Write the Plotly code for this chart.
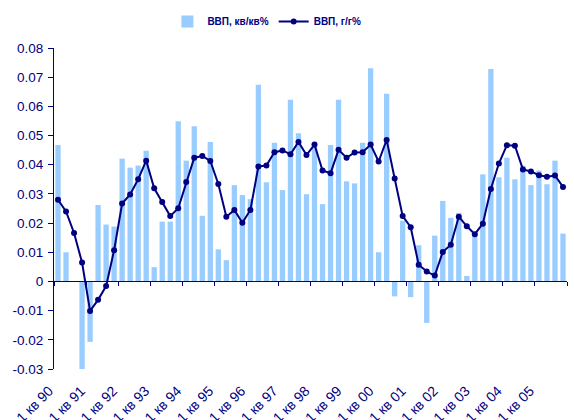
import plotly.graph_objects as go

# ---- data ----
years = ["90", "91", "92", "93", "94", "95", "96", "97", "98", "99",
         "00", "01", "02", "03", "04", "05"]
quarters = [f"{q} кв {y}" for y in years for q in (1, 2, 3, 4)]

gdp_qoq = [0.0468, 0.0100, 0.0000, -0.0310, -0.0207, 0.0262, 0.0195, 0.0188,
           0.0421, 0.0390, 0.0397, 0.0448, 0.0049, 0.0205, 0.0205, 0.0549,
           0.0414, 0.0532, 0.0225, 0.0478, 0.0110, 0.0073, 0.0330, 0.0296,
           0.0282, 0.0674, 0.0340, 0.0475, 0.0313, 0.0623, 0.0508, 0.0299,
           0.0470, 0.0265, 0.0468, 0.0623, 0.0343, 0.0336, 0.0475, 0.0731,
           0.0100, 0.0643, -0.0051, 0.0208, -0.0054, 0.0124, -0.0142, 0.0157,
           0.0276, 0.0218, 0.0235, 0.0019, 0.0161, 0.0367, 0.0728, 0.0357,
           0.0424, 0.0350, 0.0397, 0.0330, 0.0380, 0.0333, 0.0414, 0.0164]

gdp_yoy = [0.0280, 0.0240, 0.0166, 0.0065, -0.0101, -0.0063, -0.0016, 0.0107,
           0.0267, 0.0298, 0.0350, 0.0414, 0.0319, 0.0272, 0.0224, 0.0251,
           0.0341, 0.0424, 0.0430, 0.0413, 0.0334, 0.0222, 0.0245, 0.0201,
           0.0245, 0.0394, 0.0397, 0.0443, 0.0449, 0.0436, 0.0478, 0.0433,
           0.0469, 0.0380, 0.0371, 0.0451, 0.0424, 0.0442, 0.0443, 0.0469,
           0.0411, 0.0485, 0.0353, 0.0224, 0.0186, 0.0057, 0.0034, 0.0020,
           0.0101, 0.0126, 0.0222, 0.0189, 0.0162, 0.0198, 0.0317, 0.0404,
           0.0467, 0.0465, 0.0384, 0.0377, 0.0364, 0.0359, 0.0363, 0.0324]

y_tickvals = [0.08, 0.07, 0.06, 0.05, 0.04, 0.03, 0.02, 0.01, 0, -0.01, -0.02, -0.03]
y_ticktext = ["0.08", "0.07", "0.06", "0.05", "0.04", "0.03", "0.02", "0.01",
              "0", "-0.01", "-0.02", "-0.03"]

series_names = ["ВВП, кв/кв%", "ВВП, г/г%"]

# ---- styling ----
NAVY = "#000080"
BAR = "#99CCFF"
FONT = "Arial, Liberation Sans, sans-serif"
Y_MIN, Y_MAX = -0.03, 0.08

idx = list(range(len(quarters)))
q1_idx = [i for i, q in enumerate(quarters) if q.startswith("1 ")]
q1_text = [quarters[i] for i in q1_idx]
boundaries = [i - 0.5 for i in q1_idx] + [len(quarters) - 0.5]

fig = go.Figure()
fig.add_trace(go.Bar(
    x=idx, y=gdp_qoq, name=series_names[0],
    marker=dict(color=BAR, line=dict(width=0)),
    xaxis="x", yaxis="y",
))
fig.add_trace(go.Scatter(
    x=idx, y=gdp_yoy, name=series_names[1], mode="lines+markers",
    line=dict(color=NAVY, width=2),
    marker=dict(color=NAVY, size=6, symbol="circle"),
    xaxis="x2", yaxis="y",
))

xrange = [-0.5, len(quarters) - 0.5]

fig.update_layout(
    template="none",
    width=574, height=420,
    margin=dict(l=54, r=7, t=42, b=51, pad=0),
    paper_bgcolor="white", plot_bgcolor="white",
    font=dict(family=FONT, color=NAVY, size=13),
    bargap=0.34,
    showlegend=True,
    legend=dict(
        orientation="h", x=0.415, xanchor="center", y=1.128, yanchor="top",
        font=dict(family=FONT, size=10, color=NAVY, weight="bold"),
        bgcolor="rgba(0,0,0,0)", itemwidth=30, tracegroupgap=0,
    ),
    xaxis=dict(
        range=xrange, showgrid=False, zeroline=False, showline=False,
        tickmode="array", tickvals=q1_idx, ticktext=q1_text,
        tickangle=-45, ticks="", automargin=False,
        ticklabelshift=-9, ticklabelstandoff=10,
        tickfont=dict(family=FONT, size=14, color=NAVY),
    ),
    xaxis2=dict(
        range=xrange, overlaying="x", anchor="free",
        position=(0 - Y_MIN) / (Y_MAX - Y_MIN),
        showgrid=False, zeroline=False, showline=True, linecolor=NAVY, linewidth=1,
        tickmode="array", tickvals=boundaries, ticks="outside", ticklen=4,
        tickcolor=NAVY, tickwidth=1, showticklabels=False, layer="above traces",
        automargin=False,
    ),
    yaxis=dict(
        range=[Y_MIN, Y_MAX], showgrid=False, zeroline=False,
        showline=True, linecolor=NAVY, linewidth=1,
        tickmode="array", tickvals=y_tickvals, ticktext=y_ticktext,
        ticks="outside", ticklen=5, tickcolor=NAVY, tickwidth=1,
        ticklabelstandoff=2,
        tickfont=dict(family=FONT, size=13.5, color=NAVY), automargin=False,
    ),
)

fig.write_html("out.html", config={"displayModeBar": False},
               post_script="document.body.style.margin='0';")
